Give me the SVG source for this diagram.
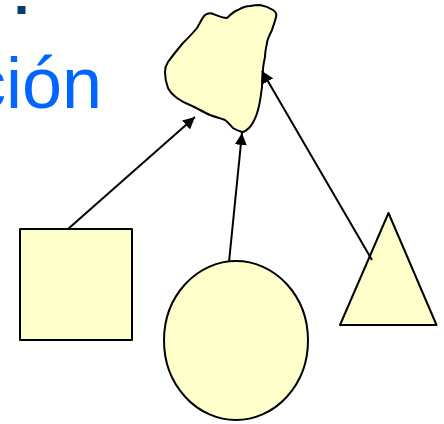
<svg xmlns="http://www.w3.org/2000/svg" width="444" height="424" viewBox="0 0 444 424">
<style>
.shape{fill:#FFFFCC;stroke:#000;stroke-width:2;stroke-linejoin:round}
.conn{stroke:#000;stroke-width:2;fill:none}
.title{font-family:"Liberation Sans",Arial,sans-serif;font-size:72px;fill:#0066FF}
</style>
<defs>
<marker id="ah" viewBox="0 0 10 10" refX="10" refY="5" markerWidth="6" markerHeight="6" markerUnits="strokeWidth" orient="auto">
<path d="M0,0 L10,5 L0,10 z" fill="#000"/>
</marker>
</defs>
<rect x="17.5" y="6" width="8" height="8" fill="#0A3A6E"/>
<text class="title" x="-30" y="108">ción</text>
<g id="blob"><path class="shape" d="M205,15 C208,13 210,13 212,13.5 C218,16 222,18 227,18 C231,14 235,11 238,10 C243,7 247,6 250,6 C255,5 258,5 260,5 C266,6 270,8 273,10 C276,12 277,14 276,17 C275,22 273,26 272,30 C269,36 267,40 267,43 C266,48 265,52 265,57 C264,62 263,66 263,70 C262,76 262,82 262,87 C261,95 260,103 258,110 C256,118 253,123 250,127 C247,130 244,132 242,132 C239,131 236,130 233,128 C230,125 228,122 225,120 C220,118 215,117 210,115 C203,112 197,108 190,105 C185,103 181,101 177,98 C173,95 170,92 168,88 C166,83 165,77 165,72 C165,68 166,65 168,62 C173,55 178,49 183,43 C188,38 193,33 197,28 C200,23 202,18 205,15 Z"/></g>
<g id="square"><rect class="shape" x="20" y="229" width="112" height="111" stroke-linejoin="miter"/></g>
<g id="circle"><ellipse class="shape" cx="236" cy="340.5" rx="72" ry="79.5"/></g>
<g id="triangle"><polygon class="shape" points="388.5,213 340,325 436.5,325" stroke-linejoin="miter"/></g>
<g id="connectors">
<line class="conn" x1="68" y1="229" x2="195" y2="117" marker-end="url(#ah)"/>
<line class="conn" x1="229" y1="262" x2="242" y2="133" marker-end="url(#ah)"/>
<line class="conn" x1="372" y1="260" x2="262" y2="71" marker-end="url(#ah)"/>
</g>
</svg>
